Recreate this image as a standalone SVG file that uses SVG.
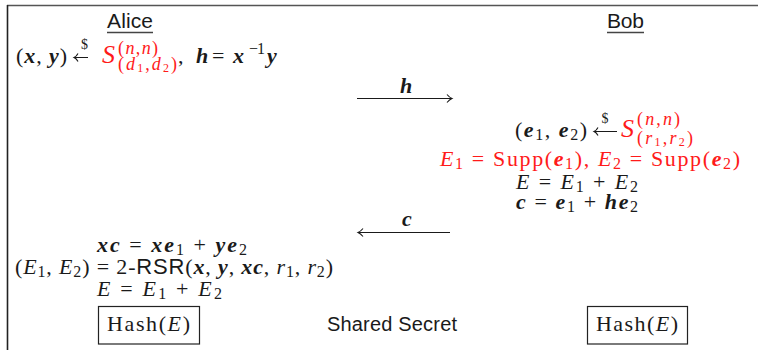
<svg xmlns="http://www.w3.org/2000/svg" width="758" height="350" viewBox="0 0 758 350">
<style>
.m{font-family:"Liberation Serif","Times New Roman",serif;font-size:22px;fill:#1a1a1a}
.s{font-family:"Liberation Sans",Arial,sans-serif;fill:#1a1a1a}
.b{font-weight:bold;font-style:italic}
.i{font-style:italic}
.red{fill:#ff1a1a}
.sm{font-size:16px}
.ss{font-size:18px}
.xs{font-size:12px}
.dl{font-size:14px}
.cs{font-size:26px}
.ln{stroke:#1a1a1a;stroke-width:1.1;fill:none}
.box{stroke:#222;stroke-width:1.2;fill:none}
</style>
<rect width="758" height="350" fill="#fff"/>
<g id="frame">
<line x1="7" y1="5.5" x2="758" y2="5.5" stroke="#555" stroke-width="1.6"/>
<line x1="7.5" y1="5" x2="7.5" y2="350" stroke="#222" stroke-width="1.6"/>
</g>
<g id="alice-label">
<text class="s" x="107" y="28" font-size="21" textLength="46">Alice</text>
<line x1="107" y1="32.5" x2="153" y2="32.5" stroke="#444" stroke-width="1.3"/>
</g>
<g id="bob-label">
<text class="s" x="607" y="28" font-size="21" textLength="37">Bob</text>
<line x1="607" y1="32.5" x2="644" y2="32.5" stroke="#444" stroke-width="1.3"/>
</g>
<g id="alice-keygen">
<text class="m" x="16" y="63" textLength="51">(<tspan class="b">x</tspan>, <tspan class="b">y</tspan>)</text>
<path class="ln" d="M74,57.5H88 M78,53.5 Q76.5,56.5 74,57.5 Q76.5,58.5 78,61.5"/>
<text class="m dl" x="84.5" y="49" text-anchor="middle">$</text>
<text class="m red i cs" x="102" y="63">S</text>
<text class="m red ss" x="118" y="54" textLength="40">(<tspan class="i">n</tspan>,<tspan class="i">n</tspan>)</text>
<text class="m red ss" x="118" y="70" textLength="59">(<tspan class="i">d</tspan><tspan class="xs" dy="2">1</tspan><tspan dy="-2">,</tspan><tspan class="i">d</tspan><tspan class="xs" dy="2">2</tspan><tspan dy="-2">)</tspan></text>
<text class="m" x="178" y="63">,</text>
<text class="m b" x="196" y="63">h</text>
<text class="m" x="212" y="63">=</text>
<text class="m b" x="233" y="63">x</text>
<text class="m sm" x="249" y="54" textLength="16">−1</text>
<text class="m b" x="267" y="63">y</text>
</g>
<g id="bob-compute">
<text class="m" x="515" y="137" textLength="72">(<tspan class="b">e</tspan><tspan class="sm" dy="3">1</tspan><tspan dy="-3">, </tspan><tspan class="b">e</tspan><tspan class="sm" dy="3">2</tspan><tspan dy="-3">)</tspan></text>
<path class="ln" d="M594,131.5H617 M598,127.5 Q596.5,130.5 594,131.5 Q596.5,132.5 598,135.5"/>
<text class="m dl" x="605" y="123" text-anchor="middle">$</text>
<text class="m red i cs" x="621" y="137">S</text>
<text class="m red ss" x="637" y="125" textLength="43">(<tspan class="i">n</tspan>,<tspan class="i">n</tspan>)</text>
<text class="m red ss" x="637" y="144" textLength="56">(<tspan class="i">r</tspan><tspan class="xs" dy="2">1</tspan><tspan dy="-2">,</tspan><tspan class="i">r</tspan><tspan class="xs" dy="2">2</tspan><tspan dy="-2">)</tspan></text>
<text class="m red" x="440" y="166" textLength="300"><tspan class="i">E</tspan><tspan class="sm" dy="3">1</tspan><tspan dy="-3"> = Supp(</tspan><tspan class="b">e</tspan><tspan class="sm" dy="3">1</tspan><tspan dy="-3">), </tspan><tspan class="i">E</tspan><tspan class="sm" dy="3">2</tspan><tspan dy="-3"> = Supp(</tspan><tspan class="b">e</tspan><tspan class="sm" dy="3">2</tspan><tspan dy="-3">)</tspan></text>
<text class="m" x="516" y="189" textLength="122"><tspan class="i">E</tspan> = <tspan class="i">E</tspan><tspan class="sm" dy="3">1</tspan><tspan dy="-3"> + </tspan><tspan class="i">E</tspan><tspan class="sm" dy="3">2</tspan></text>
<text class="m" x="516" y="209" textLength="122"><tspan class="b">c</tspan> = <tspan class="b">e</tspan><tspan class="sm" dy="3">1</tspan><tspan dy="-3"> + </tspan><tspan class="b">he</tspan><tspan class="sm" dy="3">2</tspan></text>
</g>
<g id="alice-decaps">
<text class="m" x="97" y="252" textLength="150"><tspan class="b">xc</tspan> = <tspan class="b">xe</tspan><tspan class="sm" dy="3">1</tspan><tspan dy="-3"> + </tspan><tspan class="b">ye</tspan><tspan class="sm" dy="3">2</tspan></text>
<text class="m" x="15" y="274" textLength="318">(<tspan class="i">E</tspan><tspan class="sm" dy="3">1</tspan><tspan dy="-3">, </tspan><tspan class="i">E</tspan><tspan class="sm" dy="3">2</tspan><tspan dy="-3">) = 2-</tspan><tspan font-family="Liberation Sans, Arial, sans-serif">RSR</tspan>(<tspan class="b">x</tspan>, <tspan class="b">y</tspan>, <tspan class="b">xc</tspan>, <tspan class="i">r</tspan><tspan class="sm" dy="3">1</tspan><tspan dy="-3">, </tspan><tspan class="i">r</tspan><tspan class="sm" dy="3">2</tspan><tspan dy="-3">)</tspan></text>
<text class="m" x="97" y="296" textLength="125"><tspan class="i">E</tspan> = <tspan class="i">E</tspan><tspan class="sm" dy="3">1</tspan><tspan dy="-3"> + </tspan><tspan class="i">E</tspan><tspan class="sm" dy="3">2</tspan></text>
</g>
<g id="alice-hash">
<rect class="box" x="98.5" y="306.5" width="101" height="37.5"/>
<text class="m" x="107" y="331" textLength="83">Hash(<tspan class="i">E</tspan>)</text>
</g>
<g id="shared-secret">
<text class="s" x="327" y="331" font-size="20" textLength="130">Shared Secret</text>
</g>
<g id="bob-hash">
<rect class="box" x="587.5" y="306.5" width="100" height="37.5"/>
<text class="m" x="596" y="331" textLength="82">Hash(<tspan class="i">E</tspan>)</text>
</g>
<g id="connectors">
<path class="ln" d="M357,98.5H452 M447,94.5 Q449.5,97.5 452,98.5 Q449.5,99.5 447,102.5"/>
<text class="m b" x="400" y="93">h</text>
<path class="ln" d="M450,232.5H358 M363,228.5 Q360.5,231.5 358,232.5 Q360.5,233.5 363,236.5"/>
<text class="m b" x="402" y="226">c</text>
</g>
</svg>
